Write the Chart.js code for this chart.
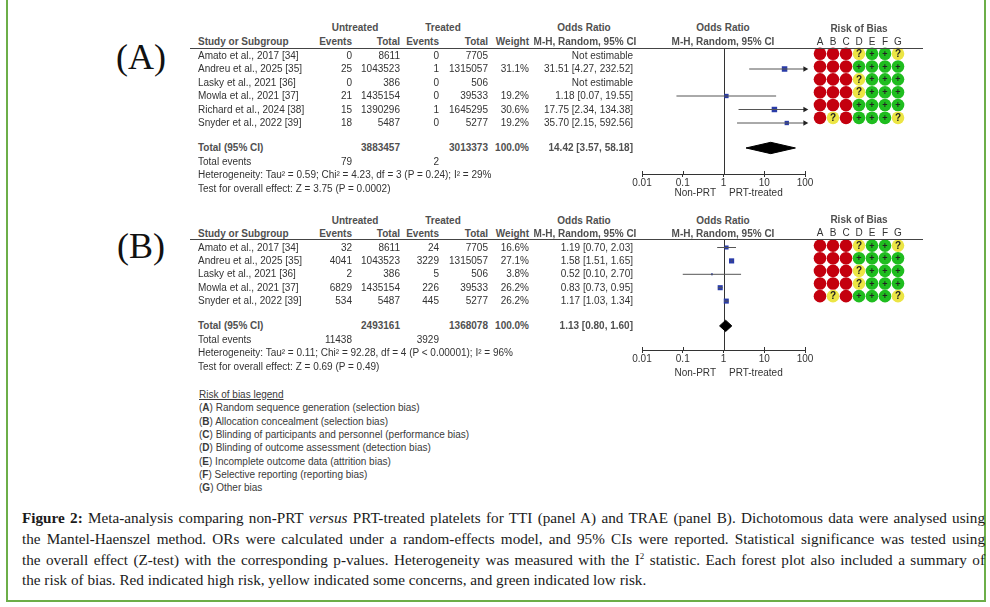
<!DOCTYPE html>
<html><head><meta charset="utf-8">
<script src="https://cdn.jsdelivr.net/npm/chart.js@4.4.1/dist/chart.umd.min.js"></script>
<style>
html,body{margin:0;padding:0;background:#fff;}
body{width:990px;height:607px;position:relative;overflow:hidden;font-family:"Liberation Sans",Arial,sans-serif;}
.t{position:absolute;font-size:10px;line-height:12px;height:12px;white-space:nowrap;color:#333;}
.b{font-weight:bold;color:#505050;}
.hl{position:absolute;height:1px;background:#444;}
canvas{position:absolute;}
.panel{position:absolute;font-family:"Liberation Serif","Times New Roman",serif;font-size:36px;line-height:40px;color:#111;transform:translate(-50%,-50%);}
#box{position:absolute;left:6px;top:-4px;width:980px;height:606px;border:2px solid #6cae48;box-sizing:border-box;}
.cap{position:absolute;left:22px;width:963px;font-family:"Liberation Serif","Times New Roman",serif;font-size:15.2px;line-height:20px;color:#1a1a1a;text-align:justify;text-align-last:justify;}
.cap.last{text-align:left;text-align-last:left;}
.leg{position:absolute;left:199px;font-size:10px;line-height:12px;color:#3a3a3a;white-space:nowrap;}
</style>
</head>
<body>
<div id="box"></div>
<div class="panel" style="left:141px;top:57px">(A)</div>
<div class="panel" style="left:141px;top:246px">(B)</div>
<canvas id="forestA"></canvas>
<canvas id="robA"></canvas>
<canvas id="forestB"></canvas>
<canvas id="robB"></canvas>
<script>
// ---------------- DATA ----------------
const studiesA = ['Amato et al., 2017 [34]','Andreu et al., 2025 [35]','Lasky et al., 2021 [36]','Mowla et al., 2021 [37]','Richard et al., 2024 [38]','Snyder et al., 2022 [39]'];
const untreatedEventsA = [0, 25, 0, 21, 15, 18];
const untreatedTotalA = [8611, 1043523, 386, 1435154, 1390296, 5487];
const treatedEventsA = [0, 1, 0, 0, 1, 0];
const treatedTotalA = [7705, 1315057, 506, 39533, 1645295, 5277];
const weightA = [null, 31.1, null, 19.2, 30.6, 19.2];
const oddsA = [null, 31.51, null, 1.18, 17.75, 35.70];
const lowerA = [null, 4.27, null, 0.07, 2.34, 2.15];
const upperA = [null, 232.52, null, 19.55, 134.38, 592.56];
const totalA = {untreated: 3883457, treated: 3013373, eventsU: 79, eventsT: 2, or: 14.42, lo: 3.57, hi: 58.18};
const hetA = 'Heterogeneity: Tau\u00B2 = 0.59; Chi\u00B2 = 4.23, df = 3 (P = 0.24); I\u00B2 = 29%';
const testA = 'Test for overall effect: Z = 3.75 (P = 0.0002)';

const studiesB = ['Amato et al., 2017 [34]','Andreu et al., 2025 [35]','Lasky et al., 2021 [36]','Mowla et al., 2021 [37]','Snyder et al., 2022 [39]'];
const untreatedEventsB = [32, 4041, 2, 6829, 534];
const untreatedTotalB = [8611, 1043523, 386, 1435154, 5487];
const treatedEventsB = [24, 3229, 5, 226, 445];
const treatedTotalB = [7705, 1315057, 506, 39533, 5277];
const weightB = [16.6, 27.1, 3.8, 26.2, 26.2];
const oddsB = [1.19, 1.58, 0.52, 0.83, 1.17];
const lowerB = [0.70, 1.51, 0.10, 0.73, 1.03];
const upperB = [2.03, 1.65, 2.70, 0.95, 1.34];
const totalB = {untreated: 2493161, treated: 1368078, eventsU: 11438, eventsT: 3929, or: 1.13, lo: 0.80, hi: 1.60};
const hetB = 'Heterogeneity: Tau\u00B2 = 0.11; Chi\u00B2 = 92.28, df = 4 (P < 0.00001); I\u00B2 = 96%';
const testB = 'Test for overall effect: Z = 0.69 (P = 0.49)';

const axisTicks = [0.01, 0.1, 1, 10, 100];
const robDomains = ['A','B','C','D','E','F','G'];
// H = high risk, U = some concerns, L = low risk
const robA = [
  ['H','H','H','U','L','L','U'],
  ['H','H','H','L','L','L','L'],
  ['H','H','H','U','L','L','L'],
  ['H','H','H','U','L','L','L'],
  ['H','H','H','L','L','L','L'],
  ['H','U','H','L','L','L','U']
];
const robB = [
  ['H','H','H','U','L','L','U'],
  ['H','H','H','L','L','L','L'],
  ['H','H','H','U','L','L','L'],
  ['H','H','H','U','L','L','L'],
  ['H','U','H','L','L','L','U']
];
const legendItems = [
  ['A','Random sequence generation (selection bias)'],
  ['B','Allocation concealment (selection bias)'],
  ['C','Blinding of participants and personnel (performance bias)'],
  ['D','Blinding of outcome assessment (detection bias)'],
  ['E','Incomplete outcome data (attrition bias)'],
  ['F','Selective reporting (reporting bias)'],
  ['G','Other bias']
];
const captionLines = [
  '<b>Figure 2:</b> Meta-analysis comparing non-PRT <i>versus</i> PRT-treated platelets for TTI (panel A) and TRAE (panel B). Dichotomous data were analysed using',
  'the Mantel-Haenszel method. ORs were calculated under a random-effects model, and 95% CIs were reported. Statistical significance was tested using',
  'the overall effect (Z-test) with the corresponding p-values. Heterogeneity was measured with the I<sup style="font-size:9px;line-height:0">2</sup> statistic. Each forest plot also included a summary of',
  'the risk of bias. Red indicated high risk, yellow indicated some concerns, and green indicated low risk.'
];

// ---------------- LAYOUT ----------------
const COL = {name:198, uE:352, uT:400, tE:439, tT:488, w:529, or:633, untreatedHdr:355, treatedHdr:443, orHdr:584, fpHdr:723};
const FONT = '"Liberation Sans", Arial, sans-serif';
const LA = {h1:28, h2:42, lineY:48, row0:55.5, step:13.5, axisY:174, npY:193, robRow0:54};
const LB = {h1:221, h2:234, lineY:239, row0:247.5, step:13.4, axisY:350, npY:373, robRow0:246};

function addText(txt, x, y, align, cls, html){
  const d = document.createElement('div');
  d.className = 't' + (cls ? ' ' + cls : '');
  if (html) d.innerHTML = txt; else d.textContent = txt;
  d.style.left = x + 'px'; d.style.top = y + 'px';
  d.style.transform = align === 'right' ? 'translate(-100%,-50%)' : align === 'center' ? 'translate(-50%,-50%)' : 'translate(0,-50%)';
  document.body.appendChild(d);
}
function hline(x1, x2, y){
  const d = document.createElement('div'); d.className = 'hl';
  d.style.left = x1 + 'px'; d.style.width = (x2 - x1) + 'px'; d.style.top = y + 'px';
  document.body.appendChild(d);
}
const ciText = (o, l, h) => o == null ? 'Not estimable' : o.toFixed(2) + ' [' + l.toFixed(2) + ', ' + h.toFixed(2) + ']';

function drawTable(P, L){
  addText('Untreated', COL.untreatedHdr, L.h1, 'center', 'b');
  addText('Treated', COL.treatedHdr, L.h1, 'center', 'b');
  addText('Odds Ratio', COL.orHdr, L.h1, 'center', 'b');
  addText('Odds Ratio', COL.fpHdr, L.h1, 'center', 'b');
  addText('Study or Subgroup', COL.name, L.h2, 'left', 'b');
  addText('Events', COL.uE, L.h2, 'right', 'b');
  addText('Total', COL.uT, L.h2, 'right', 'b');
  addText('Events', COL.tE, L.h2, 'right', 'b');
  addText('Total', COL.tT, L.h2, 'right', 'b');
  addText('Weight', COL.w, L.h2, 'right', 'b');
  addText('M-H, Random, 95% CI', COL.orHdr + 1, L.h2, 'center', 'b');
  addText('M-H, Random, 95% CI', COL.fpHdr, L.h2, 'center', 'b');
  hline(190, 923, L.lineY);
  const n = P.studies.length;
  P.studies.forEach((s, i) => {
    const y = L.row0 + i * L.step;
    addText(s, COL.name, y, 'left');
    addText(String(P.uE[i]), COL.uE, y, 'right');
    addText(String(P.uT[i]), COL.uT, y, 'right');
    addText(String(P.tE[i]), COL.tE, y, 'right');
    addText(String(P.tT[i]), COL.tT, y, 'right');
    if (P.w[i] != null) addText(P.w[i].toFixed(1) + '%', COL.w, y, 'right');
    addText(ciText(P.or[i], P.lo[i], P.hi[i]), COL.or, y, 'right');
  });
  const yt = L.row0 + (n + 0.85) * L.step;
  addText('Total (95% CI)', COL.name, yt, 'left', 'b');
  addText(String(P.total.untreated), COL.uT, yt, 'right', 'b');
  addText(String(P.total.treated), COL.tT, yt, 'right', 'b');
  addText('100.0%', COL.w, yt, 'right', 'b');
  addText(ciText(P.total.or, P.total.lo, P.total.hi), COL.or, yt, 'right', 'b');
  const ye = yt + 14;
  addText('Total events', COL.name, ye, 'left');
  addText(String(P.total.eventsU), COL.uE, ye, 'right');
  addText(String(P.total.eventsT), COL.tE, ye, 'right');
  addText(P.het, COL.name, ye + 13.5, 'left');
  addText(P.test, COL.name, ye + 27, 'left');
  addText('Non-PRT', 716, L.npY, 'right');
  addText('PRT-treated', 729, L.npY, 'left');
}

const refLinePlugin = {
  id: 'refLine',
  beforeDatasetsDraw(chart){
    const {ctx, chartArea, scales} = chart; const x = scales.x;
    ctx.save(); ctx.strokeStyle = '#333'; ctx.lineWidth = 1; ctx.beginPath();
    const p1 = Math.round(x.getPixelForValue(1)) + 0.5;
    ctx.moveTo(p1, chartArea.top); ctx.lineTo(p1, chartArea.bottom);
    x.ticks.forEach(t => { const p = Math.round(x.getPixelForValue(t.value)) + 0.5; ctx.moveTo(p, chartArea.bottom); ctx.lineTo(p, chartArea.bottom - 3); });
    ctx.stroke(); ctx.restore();
  }
};

function forestChart(id, P, L){
  const n = P.studies.length;
  const cTop = 8, canvasTop = L.lineY - cTop;
  const H = L.axisY - canvasTop + 17;
  const cv = document.getElementById(id);
  cv.width = 215; cv.height = H; cv.style.left = '615px'; cv.style.top = canvasTop + 'px';
  const ds = [];
  P.or.forEach((o, i) => {
    if (o == null) return;
    const hiC = Math.min(P.hi[i], 100), loC = Math.max(P.lo[i], 0.01);
    const arrow = P.hi[i] > 100;
    ds.push({type:'scatter', showLine:true, clip:false, data:[{x:loC, y:i}, {x:hiC, y:i}],
      borderColor:'#555', borderWidth:1, pointStyle:'triangle', rotation:90,
      pointRadius:[0, arrow ? 3.3 : 0], pointHoverRadius:[0, arrow ? 3.3 : 0],
      pointBackgroundColor:'#222', pointBorderColor:'#222', pointBorderWidth:0});
  });
  const sq = [], sqR = [];
  P.or.forEach((o, i) => { if (o != null) { sq.push({x:o, y:i}); sqR.push(Math.sqrt(P.w[i]) * 0.7); } });
  ds.push({type:'scatter', clip:false, data:sq, pointStyle:'rect', pointRadius:sqR, pointHoverRadius:sqR,
    backgroundColor:'#2a3ca8', borderColor:'#2a3ca8', borderWidth:0});
  const t = n + 0.85, h = 0.42, T = P.total;
  ds.push({type:'scatter', showLine:true, clip:false, fill:'shape',
    data:[{x:T.lo, y:t}, {x:T.or, y:t - h}, {x:T.hi, y:t}, {x:T.or, y:t + h}, {x:T.lo, y:t}],
    backgroundColor:'#000', borderColor:'#000', borderWidth:1, pointRadius:0, pointHoverRadius:0});
  new Chart(cv, {
    type:'scatter', data:{datasets:ds},
    options:{responsive:false, animation:false, events:[],
      layout:{padding:{left:27, right:25, top:cTop, bottom:2}},
      scales:{
        x:{type:'logarithmic', min:0.01, max:100,
          afterBuildTicks(s){ s.ticks = axisTicks.map(v => ({value:v})); },
          grid:{display:true, drawOnChartArea:false, drawTicks:true, tickLength:3, color:'#333'},
          border:{display:true, color:'#333', width:1},
          ticks:{padding:0, color:'#333', font:{family:FONT, size:10, lineHeight:'12px'}, minRotation:0, maxRotation:0, autoSkip:false,
            callback:(v) => String(v)}},
        y:{type:'linear', display:false, reverse:true,
          min:(L.lineY - L.row0) / L.step, max:(L.axisY - L.row0) / L.step}
      },
      plugins:{legend:{display:false}, tooltip:{enabled:false}}
    },
    plugins:[refLinePlugin]
  });
}

const robColor = {H:'#c4000e', U:'#ece544', L:'#1fbd1f'};
const robSymbol = {H:'', U:'?', L:'+'};
const robSymPlugin = {
  id:'robSym',
  afterDatasetsDraw(chart){
    const {ctx} = chart; const meta = chart.getDatasetMeta(0); const codes = chart.$codes;
    ctx.save(); ctx.fillStyle = '#222'; ctx.textAlign = 'center'; ctx.textBaseline = 'middle';
    meta.data.forEach((el, k) => {
      const s = robSymbol[codes[k]]; if (!s) return;
      ctx.font = 'bold ' + (s === '?' ? 10 : 9) + 'px ' + FONT;
      ctx.fillText(s, el.x, el.y + 0.5);
    });
    ctx.restore();
  }
};
function robChart(id, rob, L){
  const canvasTop = L.lineY - 29;
  const cv = document.getElementById(id);
  cv.width = 120; cv.height = L.axisY - canvasTop; cv.style.left = '800px'; cv.style.top = canvasTop + 'px';
  const data = [], col = [], codes = [];
  rob.forEach((row, r) => row.forEach((c, k) => { data.push({x:robDomains[k], y:r}); col.push(robColor[c]); codes.push(c); }));
  new Chart(cv, {
    type:'scatter',
    data:{datasets:[{data, clip:false, pointRadius:6.3, pointHoverRadius:6.3, backgroundColor:col, borderColor:col, borderWidth:0}]},
    options:{responsive:false, animation:false, events:[],
      layout:{padding:{left:13.5, right:15.5, top:0, bottom:0}},
      scales:{
        x:{type:'category', labels:robDomains, position:'top', offset:true,
          grid:{display:false, drawTicks:false}, border:{display:false},
          ticks:{padding:0, color:'#333', minRotation:0, maxRotation:0, autoSkip:false, font:{family:FONT, size:10, lineHeight:'12px'}},
          title:{display:true, text:'Risk of Bias', color:'#505050', padding:{top:4, bottom:1},
            font:{family:FONT, size:10, weight:'bold', lineHeight:'12px'}}},
        y:{type:'linear', display:false, reverse:true,
          min:(L.lineY - L.robRow0) / L.step, max:(L.axisY - L.robRow0) / L.step}
      },
      plugins:{legend:{display:false}, tooltip:{enabled:false}}
    },
    plugins:[{id:'codes', beforeInit(c){ c.$codes = codes; }}, robSymPlugin]
  });
}

const PA = {studies:studiesA, uE:untreatedEventsA, uT:untreatedTotalA, tE:treatedEventsA, tT:treatedTotalA, w:weightA, or:oddsA, lo:lowerA, hi:upperA, total:totalA, het:hetA, test:testA};
const PB = {studies:studiesB, uE:untreatedEventsB, uT:untreatedTotalB, tE:treatedEventsB, tT:treatedTotalB, w:weightB, or:oddsB, lo:lowerB, hi:upperB, total:totalB, het:hetB, test:testB};

drawTable(PA, LA); drawTable(PB, LB);
forestChart('forestA', PA, LA); forestChart('forestB', PB, LB);
robChart('robA', robA, LA); robChart('robB', robB, LB);

// legend
(function(){
  const y0 = 395, st = 13.3;
  const d = document.createElement('div'); d.className = 'leg';
  d.style.top = (y0 - 6) + 'px'; d.style.textDecoration = 'underline'; d.textContent = 'Risk of bias legend';
  document.body.appendChild(d);
  legendItems.forEach((it, k) => {
    const e = document.createElement('div'); e.className = 'leg';
    e.style.top = (y0 + (k + 1) * st - 6) + 'px';
    e.innerHTML = '(<b>' + it[0] + '</b>) ' + it[1];
    document.body.appendChild(e);
  });
})();
// caption
(function(){
  const ys = [518, 539, 560, 580];
  captionLines.forEach((l, k) => {
    const d = document.createElement('div'); d.className = 'cap' + (k === captionLines.length - 1 ? ' last' : '');
    d.style.top = (ys[k] - 10) + 'px'; d.innerHTML = l;
    document.body.appendChild(d);
  });
})();
</script>
</body></html>
